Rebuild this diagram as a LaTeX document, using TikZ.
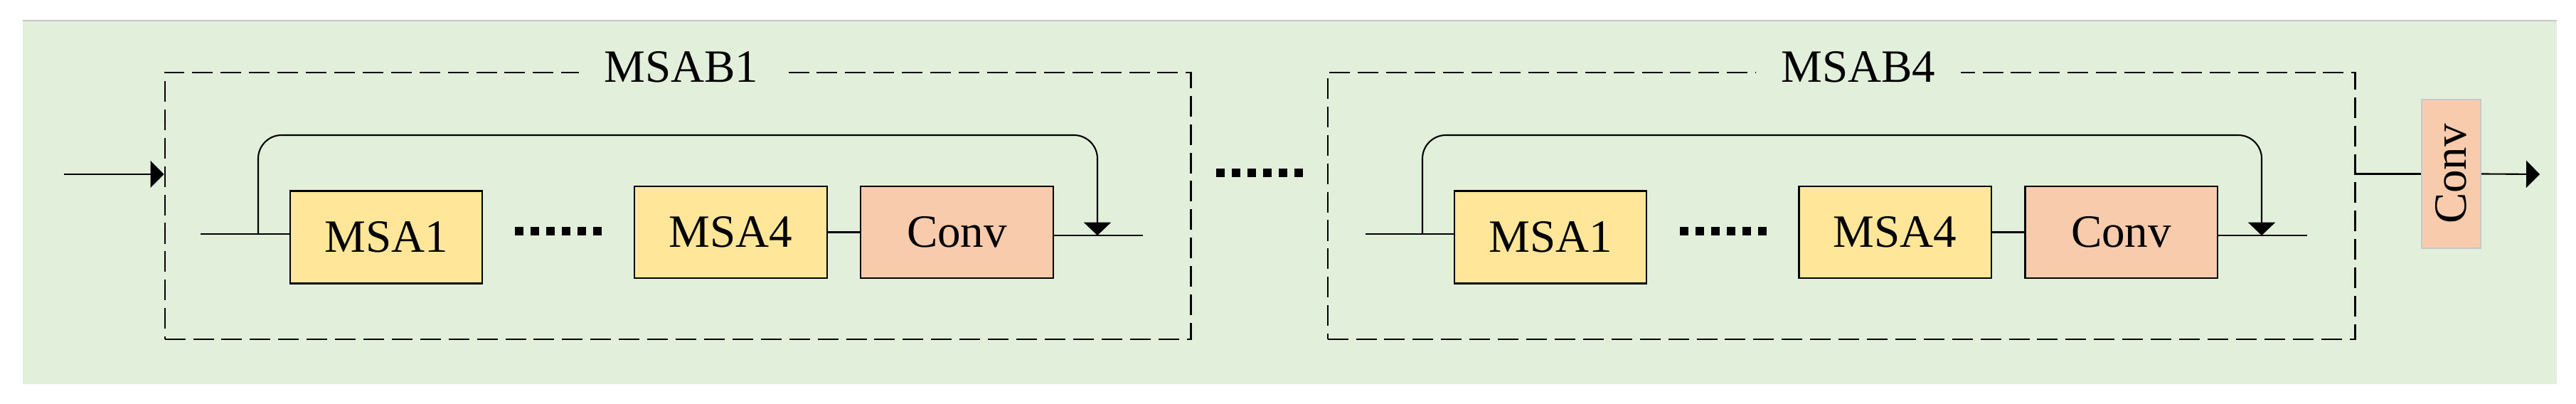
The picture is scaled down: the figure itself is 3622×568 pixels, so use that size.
\documentclass[tikz,border=0pt]{standalone}
\usepackage{fontspec}
\setmainfont{Liberation Serif}
\usetikzlibrary{arrows.meta}
\definecolor{bggreen}{RGB}{226,239,218}
\definecolor{msayellow}{RGB}{255,230,153}
\definecolor{convorange}{RGB}{248,203,173}
\definecolor{edgegray}{RGB}{200,200,200}
\tikzset{
  msa/.style={draw, fill=msayellow, minimum width=2.7cm, minimum height=1.3cm, inner sep=0pt, font=\fontsize{18.5}{20}\selectfont},
  conv/.style={msa, fill=convorange, minimum height=1.29cm},
  blockbox/.style={draw, dash pattern=on 8.25pt off 3.1pt, minimum height=3.75cm, inner sep=0pt},
  blocktitle/.style={fill=bggreen, inner xsep=10pt, inner ysep=1pt, font=\fontsize{18.5}{20}\selectfont},
  outconv/.style={draw=edgegray, fill=convorange, minimum width=0.83cm, minimum height=2.09cm, inner sep=0pt, font=\fontsize{18.5}{20}\selectfont},
  dotrow/.style={line width=3.4pt, dash pattern=on 3.4pt off 2.85pt},
  skip/.style={rounded corners=9.4pt, -{Triangle[length=5.2pt,width=10.8pt]}}
}

\begin{document}
\begin{tikzpicture}[x=0.01cm, y=-0.01cm, line width=0.6pt, >={Triangle[length=5.4pt,width=10.8pt]}]
\useasboundingbox (0,0) rectangle (3622,568);
\fill[bggreen] (32,29) rectangle (3595,540);
\draw[edgegray, line width=0.4pt] (32,29) -- (3595,29);

% first block
\node[blockbox, minimum width=14.42cm] (blk1) at (953,289.5) {};
\node[blocktitle] (t1) at (958,94) {MSAB1};
\node[msa] (a1) at (543,333.5) {MSA1};
\node[msa, minimum height=1.29cm] (a4) at (1027.5,326.5) {MSA4};
\node[conv] (ac) at (1345.5,326.5) {Conv};
\coordinate (ain) at (282,329); \coordinate (aout) at (1607,331);
\coordinate (askip) at (363,329); \coordinate (ajoin) at (1543,331); \coordinate (atop) at (953,190);
\coordinate (ad1) at (724,325); \coordinate (ad2) at (846,325);
\draw (ain) -- (ain -| a1.west);
\draw (a4) -- (ac);
\draw (ac.east |- aout) -- (aout);
\draw[skip] (askip) -- (askip |- atop) -- (ajoin |- atop) -- (ajoin);
\draw[dotrow] (ad1) -- (ad2);

% input and gap between blocks
\coordinate (start) at (90,245);
\draw[->] (start) -- (start -| blk1.west);
\coordinate (gd1) at (1710,243); \coordinate (gd2) at (1833,243);
\draw[dotrow] (gd1) -- (gd2);

% last block
\node[blockbox, minimum width=14.44cm] (blk4) at (2589,289.5) {};
\node[blocktitle] (t4) at (2613,94) {MSAB4};
\node[msa] (b1) at (2180,333.5) {MSA1};
\node[msa, minimum height=1.29cm] (b4) at (2664.5,326.5) {MSA4};
\node[conv] (bc) at (2982.5,326.5) {Conv};
\coordinate (bin) at (1920,329); \coordinate (bout) at (3244,331);
\coordinate (bskip) at (2000,329); \coordinate (bjoin) at (3180,331); \coordinate (btop) at (2589,190);
\coordinate (bd1) at (2362,325); \coordinate (bd2) at (2484,325);
\draw (bin) -- (bin -| b1.west);
\draw (b4) -- (bc);
\draw (bc.east |- bout) -- (bout);
\draw[skip] (bskip) -- (bskip |- btop) -- (bjoin |- btop) -- (bjoin);
\draw[dotrow] (bd1) -- (bd2);

% output
\node[outconv] (oc) at (3446.5,244.5) {\rotatebox{90}{Conv}};
\coordinate (finish) at (3571,245);
\draw (blk4.east |- oc) -- (oc.west);
\draw[->] (oc.east) -- (finish);
\end{tikzpicture}
\end{document}
